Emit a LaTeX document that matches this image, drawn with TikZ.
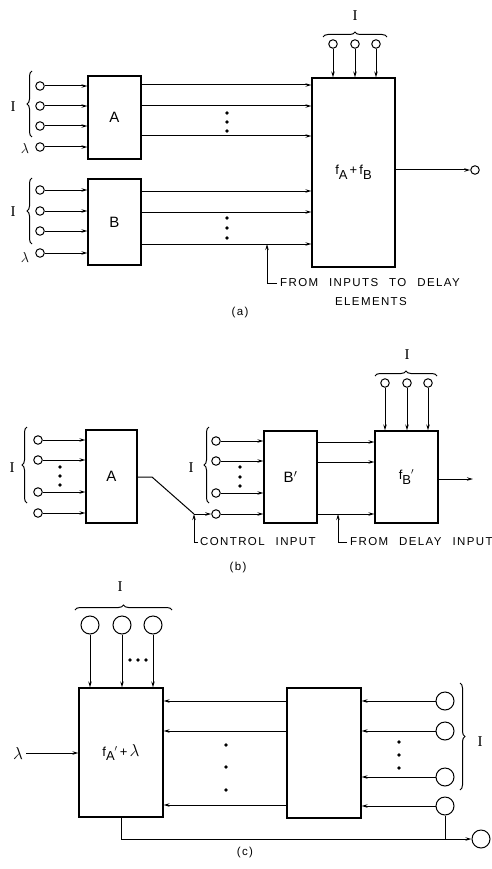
\documentclass[tikz,border=0pt]{standalone}
\usepackage{fontspec}
\setmainfont{Liberation Sans}
\newfontfamily\lbl[LetterSpace=12,WordSpace=2.4]{Liberation Sans}
\newfontfamily\serI{Liberation Serif}
\usetikzlibrary{arrows.meta,decorations.pathreplacing}

\begin{document}
\begin{tikzpicture}[
  x=1pt, y=-1pt,
  wire/.style={line width=1pt},
  arr/.style={wire, -{Stealth[length=6pt,width=3.4pt]}},
  blk/.style={draw, line width=1.1pt, inner sep=0pt,
              font=\fontsize{13}{13}\selectfont},
  term/.style={circle, draw, line width=1pt, minimum size=8.5pt, inner sep=0pt},
  bigterm/.style={circle, draw, line width=1pt, minimum size=18pt, inner sep=0pt},
  brc/.style={decorate, decoration={brace, amplitude=5pt}, line width=1pt},
  setI/.style={font=\serI\fontsize{15}{15}\selectfont, inner sep=0pt},
  lam/.style={font=\fontsize{15}{15}\selectfont, inner sep=0pt},
  note/.style={font=\lbl\fontsize{11.5}{12}\selectfont, inner sep=0pt, anchor=west},
  lbltxt/.style={font=\lbl\fontsize{11.5}{12}\selectfont, inner sep=0pt},
  dot/.style={circle, fill, inner sep=0pt, minimum size=3.6pt}]

\useasboundingbox (0,0) rectangle (491,869);

% ============================ (a) ======================================
\node[blk, minimum width=53pt, minimum height=83pt] (aA) at (114.5,117.5)
  {\fontsize{15}{15}\selectfont A};
\node[blk, minimum width=53pt, minimum height=86pt] (aB) at (114.5,222)
  {\fontsize{15}{15}\selectfont B};
\node[blk, minimum width=83pt, minimum height=189pt] (aF) at (353.5,172.5)
  {f\raisebox{-0.7ex}{A}\,+\,f\raisebox{-0.7ex}{B}};
% inputs of A and B
\foreach \n/\y in {1/86,2/106,3/126,4/147}{
  \node[term] (aA\n) at (40,\y) {};
  \draw[arr] (aA\n) -- (aA\n -| aA.west);}
\foreach \n/\y in {1/190,2/211,3/231,4/253}{
  \node[term] (aB\n) at (40,\y) {};
  \draw[arr] (aB\n) -- (aB\n -| aB.west);}
\draw[brc] (32,137) -- (32,71);
\draw[brc] (32,244) -- (32,178);
\node[setI] (aIA) at (13,107) {I};
\node[setI] (aIB) at (13,212) {I};
\node[lam] (aLA) at (25,149) {$\lambda$};
\node[lam] (aLB) at (25,257) {$\lambda$};
% outputs of A and B into f_A+f_B
\foreach \y [count=\k] in {85,106,136}{
  \coordinate (aa\k) at (200,\y);
  \draw[arr] (aA.east |- aa\k) -- (aF.west |- aa\k);}
\foreach \y [count=\k] in {191,212,244}{
  \coordinate (ab\k) at (200,\y);
  \draw[arr] (aB.east |- ab\k) -- (aF.west |- ab\k);}
\foreach \y in {113,122,131}{\node[dot] at (227,\y) {};}
\foreach \y in {218,228,238}{\node[dot] at (227,\y) {};}
% the set I on top
\foreach \n/\x in {1/333,2/355,3/376}{
  \node[term] (aT\n) at (\x,44) {};
  \draw[arr] (aT\n) -- (aT\n |- aF.north);}
\draw[brc] (323,37) -- (387,37);
\node[setI] (aIT) at (355,16) {I};
\node[term] (aOut) at (475,170) {};
\draw[arr] (aF.east |- aOut) -- (aOut);
% tap to the delay elements
\coordinate (aTap) at (267,244);
\node[note] (aNote) at (280,283) {FROM INPUTS TO DELAY};
\node[lbltxt] (aNote2) at (371,302) {ELEMENTS};
\draw[arr] ([xshift=-3pt]aNote.west) -| (aTap);
\node[lbltxt] (aCap) at (240,313) {(a)};

% ============================ (b) ======================================
\node[blk, minimum width=51pt, minimum height=93pt] (bA) at (111.5,476.5)
  {\fontsize{15}{15}\selectfont A};
\node[blk, minimum width=53pt, minimum height=92pt] (bB) at (290.5,477)
  {\fontsize{15}{15}\selectfont B$^{\prime}$};
\node[blk, minimum width=63pt, minimum height=92pt] (bF) at (406.5,477)
  {f\raisebox{-0.7ex}{B}$^{\prime}$};
\foreach \n/\y in {1/440,2/460,3/492,4/513}{
  \node[term] (bA\n) at (38,\y) {};
  \draw[arr] (bA\n) -- (bA\n -| bA.west);}
\foreach \y in {467,476,485}{\node[dot] at (60,\y) {};}
\draw[brc] (27,503) -- (27,427);
\node[setI] (bIA) at (12,468) {I};
% A switches the control input of B'
\coordinate (bKnee) at (152,477);
\coordinate (bCtl) at (194,514);
\foreach \n/\y in {1/441,2/461,3/493,4/514}{
  \node[term] (bB\n) at (216,\y) {};
  \draw[arr] (bB\n) -- (bB\n -| bB.west);}
\foreach \y in {467,477,486}{\node[dot] at (240,\y) {};}
\draw[brc] (209,503) -- (209,427);
\node[setI] (bIB) at (191,468) {I};
\draw[wire] (bA.east |- bKnee) -- (bKnee) -- (bCtl);
\draw[arr] (bCtl) -- (bB4);
\node[note] (bNote1) at (200,542) {CONTROL INPUT};
\draw[arr] ([xshift=-2pt]bNote1.west) -| (bCtl);
% B' into f_B'
\foreach \y [count=\k] in {442,462,514}{
  \coordinate (bb\k) at (340,\y);
  \draw[arr] (bB.east |- bb\k) -- (bF.west |- bb\k);}
\foreach \n/\x in {1/385,2/407,3/428}{
  \node[term] (bT\n) at (\x,383) {};
  \draw[arr] (bT\n) -- (bT\n |- bF.north);}
\draw[brc] (375,376) -- (437,376);
\node[setI] (bIT) at (407,355) {I};
\coordinate (bOut) at (473,479);
\draw[arr] (bF.east |- bOut) -- (bOut);
\coordinate (bTap) at (338,514);
\node[note] (bNote2) at (350,542) {FROM DELAY INPUT};
\draw[arr] ([xshift=-3pt]bNote2.west) -| (bTap);
\node[lbltxt] (bCap) at (238,568) {(b)};

% ============================ (c) ======================================
\node[blk, minimum width=84pt, minimum height=129pt] (cF) at (121,752.5)
  {f\raisebox{-0.7ex}{A}$^{\prime}$\,+\,{\fontsize{16}{16}\selectfont$\lambda$}};
\node[blk, minimum width=74pt, minimum height=130pt] (cM) at (324,753) {};
\foreach \n/\x in {1/90,2/122,3/153}{
  \node[bigterm] (cT\n) at (\x,625) {};
  \draw[arr] (cT\n) -- (cT\n |- cF.north);}
\foreach \x in {130,138,146}{\node[dot] at (\x,660) {};}
\draw[brc] (75,610) -- (172,610);
\node[setI] (cIT) at (120,587) {I};
\node[lam, inner sep=3pt, font=\fontsize{17}{17}\selectfont] (cLam) at (18,753) {$\lambda$};
\draw[arr] (cLam) -- (cLam -| cF.west);
% middle box back into f_A'+lambda
\foreach \y [count=\k] in {701,731,805}{
  \coordinate (cc\k) at (220,\y);
  \draw[arr] (cM.west |- cc\k) -- (cF.east |- cc\k);}
\foreach \y in {745,767,790}{\node[dot] at (226,\y) {};}
\foreach \n/\y in {1/701,2/731,3/777,4/806}{
  \node[bigterm] (cR\n) at (445,\y) {};
  \draw[arr] (cR\n) -- (cR\n -| cM.east);}
\foreach \y in {742,755,768}{\node[dot] at (399,\y) {};}
\draw[brc] (460,683) -- (460,790);
\node[setI] (cIR) at (480,742) {I};
% feedback to the output
\coordinate (cJoin) at (445,839);
\node[bigterm] (cOut) at (481,839) {};
\draw[wire] (cF.south) -- (cF.south |- cJoin) -- (cJoin);
\draw[wire] (cR4) -- (cJoin);
\draw[arr] (cJoin) -- (cOut);
\node[lbltxt] (cCap) at (245,853) {(c)};

\end{tikzpicture}
\end{document}
